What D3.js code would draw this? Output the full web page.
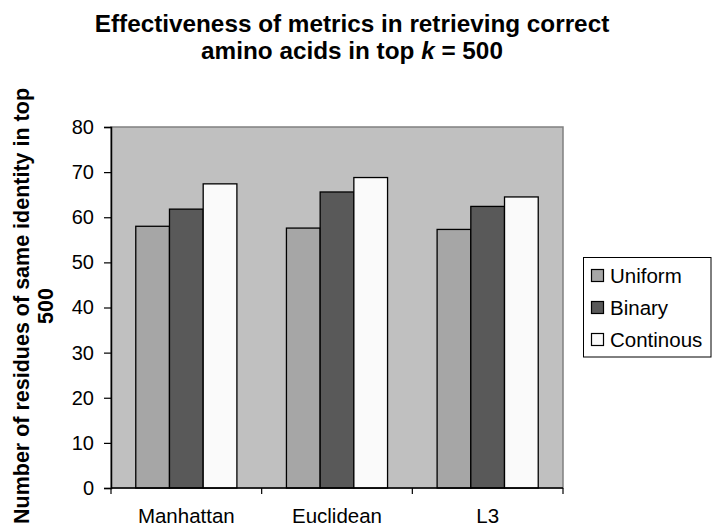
<!DOCTYPE html>
<html><head><meta charset="utf-8">
<script src="https://cdn.jsdelivr.net/npm/d3@7"></script>
<style>body{margin:0;background:#fff;font-family:"Liberation Sans",Arial,sans-serif;}</style>
</head><body><svg id="c" width="712" height="527"></svg>
<script>
const categories = ["Manhattan", "Euclidean", "L3"];
const seriesNames = ["Uniform", "Binary", "Continous"];
const uniform = [58.0, 57.6, 57.3];
const binary = [61.8, 65.6, 62.4];
const continous = [67.4, 68.8, 64.5];
const yTicks = [0, 10, 20, 30, 40, 50, 60, 70, 80];
const colors = ["#a6a6a6", "#595959", "#fafafa"];
const seriesValues = [uniform, binary, continous];

const svg = d3.select("#c");
const L = 111, R = 563, T = 127, B = 488;
const x = d3.scaleBand().domain(categories).range([L, R]).paddingInner(0).paddingOuter(0);
const inner = d3.scaleBand().domain(seriesNames).range([0, x.bandwidth()]).paddingInner(0).paddingOuter(0.735);
const y = d3.scaleLinear().domain([0, 80]).range([B, T]);

svg.append("rect").attr("x", L).attr("y", T).attr("width", R - L).attr("height", B - T)
  .attr("fill", "#c0c0c0").attr("stroke", "#808080").attr("stroke-width", 1.5);

categories.forEach((c, i) => {
  seriesNames.forEach((s, j) => {
    const v = seriesValues[j][i];
    svg.append("rect")
      .attr("x", x(c) + inner(s)).attr("y", y(v))
      .attr("width", inner.bandwidth()).attr("height", y(0) - y(v))
      .attr("fill", colors[j]).attr("stroke", "#000").attr("stroke-width", 1.3);
  });
});

const ya = svg.append("g").attr("transform", `translate(${L},0)`)
  .call(d3.axisLeft(y).tickValues(yTicks).tickSize(7).tickPadding(10).tickFormat(d3.format("d")));
ya.select(".domain").attr("stroke", "#000").attr("stroke-width", 1.5);
ya.selectAll(".tick line").attr("stroke", "#000").attr("stroke-width", 1.2);
ya.selectAll("text").attr("font-size", 20).attr("fill", "#000").attr("font-family", "Liberation Sans, Arial, sans-serif");

const edges = d3.range(categories.length + 1).map(i => L + i * x.step());
svg.append("line").attr("x1", L).attr("x2", R).attr("y1", B).attr("y2", B).attr("stroke", "#000").attr("stroke-width", 1.5);
svg.selectAll(".xt").data(edges).enter().append("line")
  .attr("x1", d => d).attr("x2", d => d).attr("y1", B).attr("y2", B + 6)
  .attr("stroke", "#000").attr("stroke-width", 1.2);
svg.selectAll(".xl").data(categories).enter().append("text")
  .attr("x", d => x(d) + x.bandwidth() / 2).attr("y", 523)
  .attr("text-anchor", "middle").attr("font-size", 20.5).text(d => d);

// Title
const title = svg.append("text").attr("text-anchor", "middle").attr("font-weight", "bold").attr("font-size", 24.3);
title.append("tspan").attr("x", 352).attr("y", 32).text("Effectiveness of metrics in retrieving correct");
const t2 = title.append("tspan").attr("x", 352).attr("y", 59);
t2.append("tspan").text("amino acids in top ");
t2.append("tspan").attr("font-style", "italic").text("k");
t2.append("tspan").text(" = 500");

// Y axis title
const yt = svg.append("text").attr("transform", "translate(0,306) rotate(-90)")
  .attr("text-anchor", "middle").attr("font-weight", "bold").attr("font-size", 21.5);
yt.append("tspan").attr("x", 0).attr("y", 29).text("Number of residues of same identity in top");
yt.append("tspan").attr("x", 0).attr("y", 53).text("500");

// Legend
const lg = svg.append("g");
lg.append("rect").attr("x", 583.5).attr("y", 257.5).attr("width", 127.5).attr("height", 99.5)
  .attr("fill", "#fff").attr("stroke", "#000").attr("stroke-width", 1);
seriesNames.forEach((s, j) => {
  const cy = 275.5 + j * 32;
  lg.append("rect").attr("x", 591.5).attr("y", cy - 6).attr("width", 12).attr("height", 12)
    .attr("fill", colors[j]).attr("stroke", "#000").attr("stroke-width", 1.2);
  lg.append("text").attr("x", 610).attr("y", cy + 7.5).attr("font-size", 20.5).text(s);
});
</script></body></html>
